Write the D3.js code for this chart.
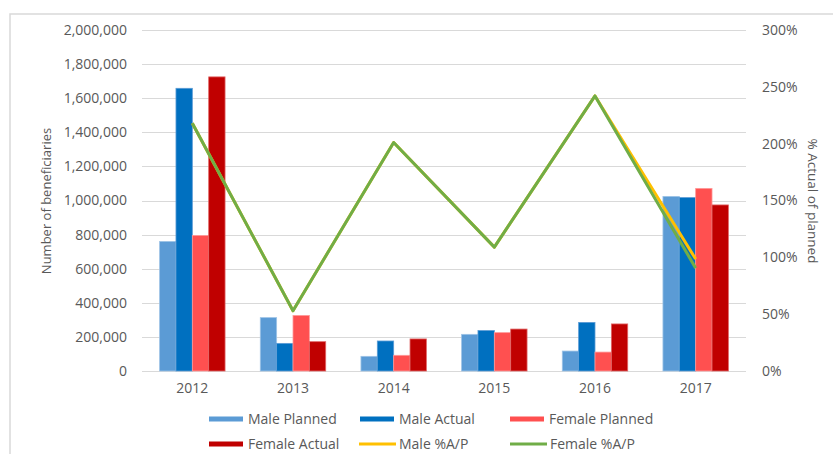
<!DOCTYPE html>
<html>
<head>
<meta charset="utf-8">
<script src="https://cdn.jsdelivr.net/npm/d3@7"></script>
<style>
  html, body { margin: 0; padding: 0; background: #fff; }
  svg { display: block; font-family: "Open Sans", sans-serif; }
</style>
</head>
<body>
<svg id="chart" width="833" height="454"></svg>
<script>
// ---- data ----
const years = ["2012", "2013", "2014", "2015", "2016", "2017"];
const malePlanned   = [760000, 313000, 86000, 215000, 117000, 1024000];
const maleActual    = [1658000, 162000, 176000, 237000, 285000, 1017000];
const femalePlanned = [795000, 326000, 92000, 225000, 111000, 1071000];
const femaleActual  = [1725000, 172000, 188000, 246000, 276000, 974000];
const malePct   = [2.18, 0.53, 2.01, 1.09, 2.42, 0.985];
const femalePct = [2.18, 0.53, 2.01, 1.09, 2.42, 0.905];
const leftTicks  = [0, 200000, 400000, 600000, 800000, 1000000, 1200000, 1400000, 1600000, 1800000, 2000000];
const rightTicks = [0, 0.5, 1, 1.5, 2, 2.5, 3];

const barSeries = [
  { name: "Male Planned",   values: malePlanned,   color: "#5B9BD5", edge: "#9DC3E6" },
  { name: "Male Actual",    values: maleActual,    color: "#0070C0", edge: "#5B9BD5" },
  { name: "Female Planned", values: femalePlanned, color: "#FF5050", edge: "#FF9999" },
  { name: "Female Actual",  values: femaleActual,  color: "#C00000", edge: "#E06666" }
];
const lineSeries = [
  { name: "Male %A/P",   values: malePct,   color: "#FFC000" },
  { name: "Female %A/P", values: femalePct, color: "#70AD47" }
];

// ---- layout ----
const svg = d3.select("#chart");
const plot = { left: 142, right: 746, top: 30, bottom: 371 };
const textColor = "#595959";
const gridColor = "#D9D9D9";

// outer chart border (Excel chart area)
svg.append("rect")
  .attr("x", 10).attr("y", 14)
  .attr("width", 840).attr("height", 460)
  .attr("fill", "none").attr("stroke", "#D9D9D9").attr("stroke-width", 1.5);

const x0 = d3.scaleBand().domain(years).range([plot.left, plot.right])
  .paddingInner(0.35).paddingOuter(0.175);
const x1 = d3.scaleBand().domain(barSeries.map(d => d.name)).range([0, x0.bandwidth()]).padding(0);
const yL = d3.scaleLinear().domain([0, 2000000]).range([plot.bottom, plot.top]);
const yR = d3.scaleLinear().domain([0, 3]).range([plot.bottom, plot.top]);

// gridlines
svg.append("g").selectAll("line").data(leftTicks).join("line")
  .attr("x1", plot.left).attr("x2", plot.right)
  .attr("y1", d => Math.round(yL(d)) + 0.5).attr("y2", d => Math.round(yL(d)) + 0.5)
  .attr("stroke", gridColor).attr("stroke-width", 1);

// left axis
const fmt = d3.format(",");
const axL = svg.append("g").attr("transform", `translate(${plot.left - 15},0)`)
  .call(d3.axisLeft(yL).tickValues(leftTicks).tickFormat(fmt).tickSize(0).tickPadding(0));
axL.select(".domain").remove();
axL.selectAll("text").attr("fill", textColor).style("font-size", "14px")
  .style("font-family", "'Open Sans', sans-serif");

// right axis
const axR = svg.append("g").attr("transform", `translate(${plot.right + 16},0)`)
  .call(d3.axisRight(yR).tickValues(rightTicks).tickFormat(d3.format(".0%")).tickSize(0).tickPadding(0));
axR.select(".domain").remove();
axR.selectAll("text").attr("fill", textColor).style("font-size", "14px")
  .style("font-family", "'Open Sans', sans-serif");

// x axis labels
const axB = svg.append("g").attr("transform", `translate(0,${plot.bottom})`)
  .call(d3.axisBottom(x0).tickSize(0).tickPadding(12));
axB.select(".domain").remove();
axB.selectAll("text").attr("fill", textColor).style("font-size", "14px")
  .style("font-family", "'Open Sans', sans-serif");

// bars
const groups = svg.append("g").selectAll("g").data(years).join("g")
  .attr("transform", d => `translate(${x0(d)},0)`);
groups.selectAll("rect")
  .data((yr, i) => barSeries.map(s => ({ s, v: s.values[i] })))
  .join("rect")
  .attr("x", d => x1(d.s.name))
  .attr("width", x1.bandwidth())
  .attr("y", d => yL(d.v))
  .attr("height", d => yL(0) - yL(d.v))
  .attr("fill", d => d.s.color)
  .attr("stroke", d => d.s.edge).attr("stroke-width", 0.8);

// lines
const lineGen = d3.line()
  .x((d, i) => x0(years[i]) + x0.bandwidth() / 2)
  .y(d => yR(d));
lineSeries.forEach(s => {
  svg.append("path").datum(s.values)
    .attr("d", lineGen)
    .attr("fill", "none").attr("stroke", s.color)
    .attr("stroke-width", 3).attr("stroke-linejoin", "round");
});

// axis titles
svg.append("text")
  .attr("transform", "translate(51,201) rotate(-90)")
  .attr("text-anchor", "middle").attr("fill", textColor)
  .style("font-size", "13px").text("Number of beneficiaries");
svg.append("text")
  .attr("transform", "translate(808,201) rotate(90)")
  .attr("text-anchor", "middle").attr("fill", textColor)
  .style("font-size", "13.5px").text("% Actual of planned");

// legend
const legendItems = [
  { s: barSeries[0], type: "bar", x: 209, y: 419 },
  { s: barSeries[1], type: "bar", x: 360, y: 419 },
  { s: barSeries[2], type: "bar", x: 510, y: 419 },
  { s: barSeries[3], type: "bar", x: 209, y: 444 },
  { s: lineSeries[0], type: "line", x: 359, y: 444 },
  { s: lineSeries[1], type: "line", x: 510, y: 444 }
];
const lg = svg.append("g").selectAll("g").data(legendItems).join("g")
  .attr("transform", d => `translate(${d.x},${d.y})`);
lg.filter(d => d.type === "bar").append("rect")
  .attr("x", 0).attr("y", -2.5).attr("width", 34).attr("height", 5)
  .attr("fill", d => d.s.color);
lg.filter(d => d.type === "line").append("line")
  .attr("x1", 0).attr("x2", 37).attr("y1", 0).attr("y2", 0)
  .attr("stroke", d => d.s.color).attr("stroke-width", 3);
lg.append("text")
  .attr("x", d => d.type === "bar" ? 39 : 40).attr("y", 0).attr("dy", "0.35em")
  .attr("fill", textColor).style("font-size", "14px")
  .text(d => d.s.name);
</script>
</body>
</html>
